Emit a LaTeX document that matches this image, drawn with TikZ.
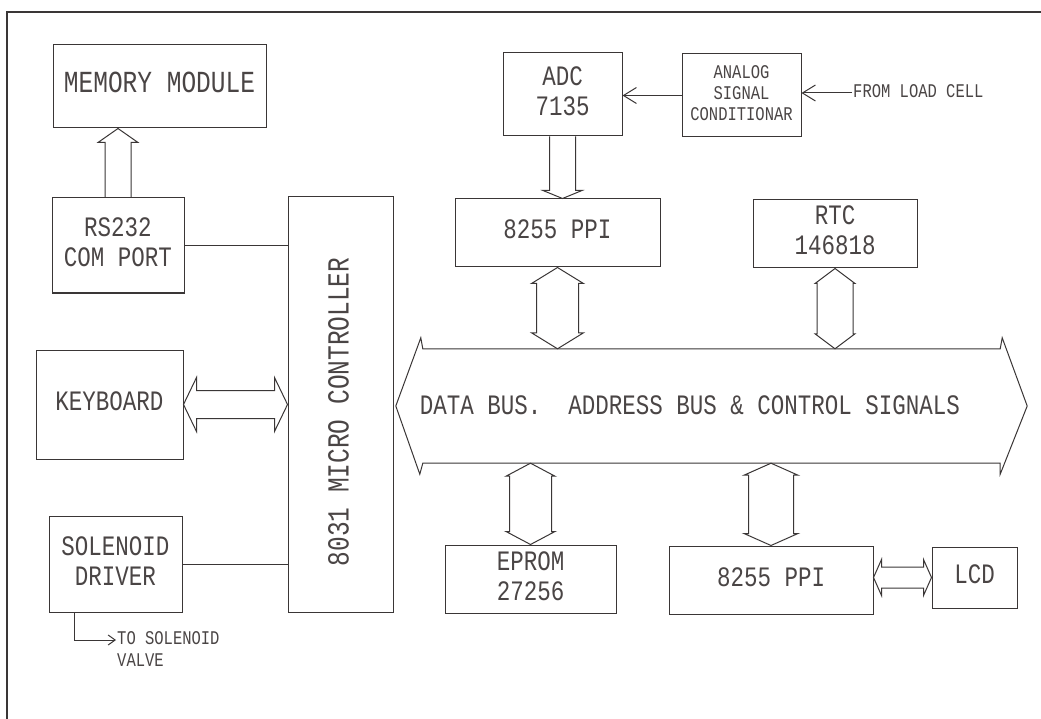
\documentclass[tikz,border=0pt]{standalone}
\usepackage{fontspec}
\usepackage{graphicx}
\usetikzlibrary{calc,arrows.meta}
\newfontfamily\pltfont{Liberation Mono}
\definecolor{ink}{HTML}{3A3636}
\definecolor{txtink}{HTML}{4A4545}
\newcommand{\plt}[1]{\scalebox{1}[1.25]{\begin{tabular}{@{}c@{}}#1\end{tabular}}}
% vertical double block arrow: top tip, bottom tip, half shaft, half head, head length
\newcommand{\vdarr}[5]{\draw[blk] (#1) -- ($(#1)+(-#4,#5)$) -- ($(#1)+(-#3,#5)$) -- ($(#2)+(-#3,-#5)$) -- ($(#2)+(-#4,-#5)$) -- (#2) -- ($(#2)+(#4,-#5)$) -- ($(#2)+(#3,-#5)$) -- ($(#1)+(#3,#5)$) -- ($(#1)+(#4,#5)$) -- cycle;}
% horizontal double block arrow: left tip, right tip, half shaft, half head, head length
\newcommand{\hdarr}[5]{\draw[blk] (#1) -- ($(#1)+(#5,-#4)$) -- ($(#1)+(#5,-#3)$) -- ($(#2)+(-#5,-#3)$) -- ($(#2)+(-#5,-#4)$) -- (#2) -- ($(#2)+(-#5,#4)$) -- ($(#2)+(-#5,#3)$) -- ($(#1)+(#5,#3)$) -- ($(#1)+(#5,#4)$) -- cycle;}
\begin{document}
\begin{tikzpicture}[x=1pt,y=-1pt,
  box/.style={draw=ink,line width=1pt,inner sep=0pt,text=txtink,
    font=\pltfont\fontsize{22.5}{24}\selectfont},
  bigtxt/.style={font=\pltfont\fontsize{24.5}{26}\selectfont},
  smalltxt/.style={font=\pltfont\fontsize{15.5}{17}\selectfont},
  txt/.style={text=txtink,inner sep=1pt,font=\pltfont\fontsize{22.5}{24}\selectfont},
  blk/.style={draw=ink,line width=1pt,line join=miter},
  wire/.style={draw=ink,line width=1pt},
  thinarrow/.style={draw=ink,line width=1pt,-{Straight Barb[length=13pt,width=16pt]}},
  smallarrow/.style={draw=ink,line width=1pt,-{Straight Barb[length=7pt,width=10pt]}}]
\useasboundingbox (0,0) rectangle (1041,719);
\fill[white] (0,0) rectangle (1041,719);
% outer frame
\draw[draw=ink,line width=1.3pt] (7,719) -- (7,12) -- (1041,12);

% boxes
\node[box,bigtxt,minimum width=213pt,minimum height=83pt] (mem) at (159.5,86.5) {\plt{MEMORY MODULE}};
\node[box,minimum width=132pt,minimum height=95pt] (rs) at (118,245.5) {\plt{RS232\\COM PORT}};
\node[box,minimum width=147pt,minimum height=109pt] (kb) at (109.5,404.5) {\plt{KEYBOARD}};
\node[box,minimum width=133pt,minimum height=96pt] (sol) at (115.5,564) {\plt{SOLENOID\\DRIVER}};
\node[box,minimum width=105pt,minimum height=415pt] (mc) at (340.5,404.5) {};
\node[txt,bigtxt,rotate=90] (mctext) at (342,412) {\plt{8031 MICRO CONTROLLER}};
\node[box,minimum width=119pt,minimum height=83pt] (adc) at (562.5,94.5) {\plt{ADC\\7135}};
\node[box,smalltxt,minimum width=119pt,minimum height=83pt] (asc) at (741.5,95.5) {\plt{ANALOG\\SIGNAL\\CONDITIONAR}};
\node[box,minimum width=205pt,minimum height=68pt] (ppi1) at (557.5,233) {\plt{8255 PPI}};
\node[box,minimum width=164pt,minimum height=68pt] (rtc) at (835,234) {\plt{RTC\\146818}};
\node[box,minimum width=171pt,minimum height=68pt] (eprom) at (530.5,579) {\plt{EPROM\\27256}};
\node[box,minimum width=204pt,minimum height=68pt] (ppi2) at (771,580) {\plt{8255 PPI}};
\node[box,minimum width=85pt,minimum height=61pt] (lcd) at (974.5,577.5) {\plt{LCD}};

% bus
\node[minimum width=577pt,minimum height=114pt,inner sep=0pt] (bus) at (711.5,406) {};
\draw[blk] (bus.north west) -- ($(bus.north west)+(-2,-11)$) -- ($(bus.west)+(-27,0)$)
  -- ($(bus.south west)+(-3,11)$) -- (bus.south west) -- (bus.south east)
  -- ($(bus.south east)+(0,11)$) -- ($(bus.east)+(27,0)$) -- ($(bus.north east)+(2,-11)$)
  -- (bus.north east) -- cycle;
\node[txt] (bustext) at (690,408) {\plt{DATA BUS.\ \ ADDRESS BUS \& CONTROL SIGNALS}};

% side texts
\node[txt,smalltxt,anchor=west] (load) at (852,93) {\plt{FROM LOAD CELL}};
\node[txt,smalltxt,anchor=west] (tos) at (116,640) {\plt{TO SOLENOID}};
\node[txt,smalltxt,anchor=west] (valve) at (116,662) {\plt{VALVE}};

% plain connectors
\draw[wire] (rs.east) -- (rs.east -| mc.west);
\draw[wire] (sol.east) -- (sol.east -| mc.west);
\draw[thinarrow] (asc.west) -- (asc.west -| adc.east);
\draw[thinarrow] (load.west) -- (load.west -| asc.east);
\coordinate (solout) at ($(sol.south west)+(26,0)$);
\draw[smallarrow] (solout) |- (tos.west);

% single block arrows
\coordinate (mT) at (rs.north |- mem.south);
\draw[blk] ($(rs.north)+(-13,0)$) -- ($(mT)+(-13,14)$) -- ($(mT)+(-20,14)$) -- (mT)
  -- ($(mT)+(20,14)$) -- ($(mT)+(13,14)$) -- ($(rs.north)+(13,0)$);
\coordinate (aT) at (adc.south |- ppi1.north);
\draw[blk] ($(adc.south)+(-13,0)$) -- ($(aT)+(-13,-8)$) -- ($(aT)+(-19.5,-8)$) -- (aT)
  -- ($(aT)+(19.5,-8)$) -- ($(aT)+(13,-8)$) -- ($(adc.south)+(13,0)$);

% double block arrows
\coordinate (p1B) at (ppi1.south |- bus.north);
\vdarr{ppi1.south}{p1B}{21}{26}{16}
\coordinate (rtB) at (rtc.south |- bus.north);
\vdarr{rtc.south}{rtB}{18}{20}{15}
\coordinate (epT) at (eprom.north |- bus.south);
\vdarr{epT}{eprom.north}{21}{24.5}{13}
\coordinate (p2T) at (ppi2.north |- bus.south);
\vdarr{p2T}{ppi2.north}{22.5}{27}{12}
\coordinate (kbR) at (kb.east -| mc.west);
\hdarr{kb.east}{kbR}{14}{27}{13}
\coordinate (lcL) at (lcd.west -| ppi2.east);
\hdarr{lcL}{lcd.west}{10.5}{18}{8}
\end{tikzpicture}
\end{document}
